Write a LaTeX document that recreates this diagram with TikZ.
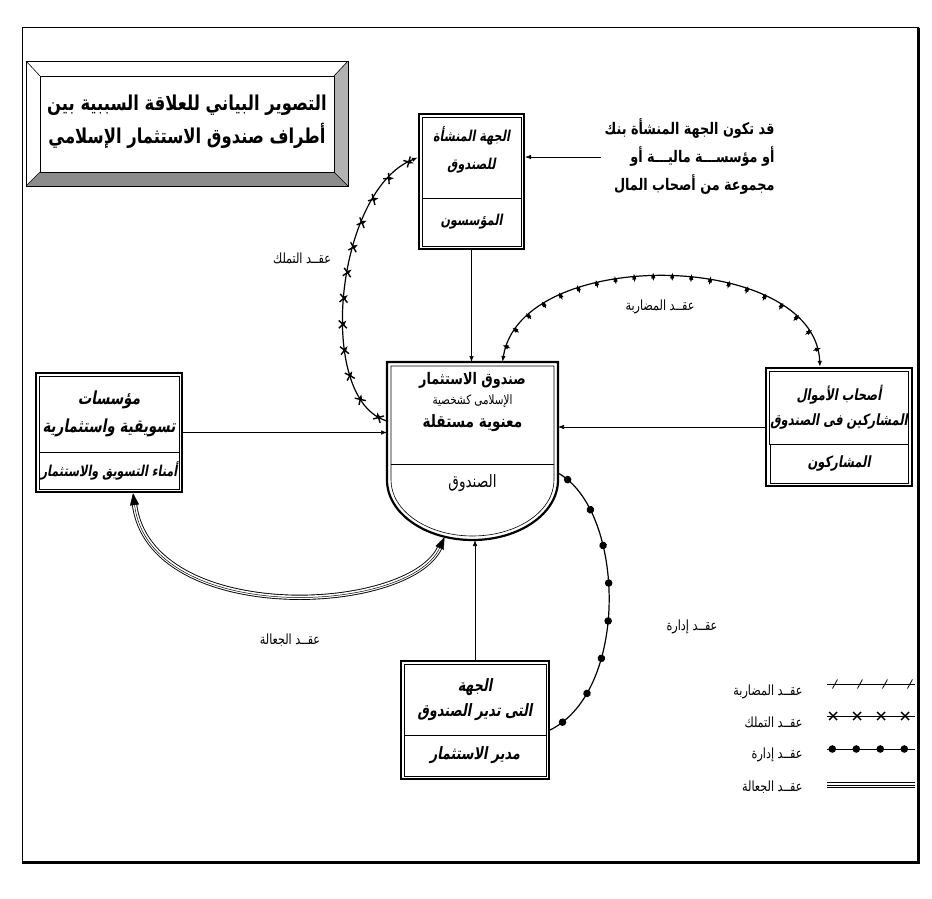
\documentclass[tikz,border=0pt]{standalone}
\usepackage{fontspec}
\usepackage{tikz}
\usetikzlibrary{positioning,fit,arrows.meta,decorations.markings}
\TeXXeTstate=1
\newfontfamily\arabicfont[Script=Arabic,FakeStretch=0.8]{DejaVu Sans}
\newfontfamily\arabicbold[Script=Arabic,FakeStretch=0.8]{DejaVu Sans Bold}
\newfontfamily\arabicslant[Script=Arabic,FakeSlant=0.18,FakeStretch=0.75]{DejaVu Sans Bold}
\newcommand{\arl}[1]{\beginR #1\endR}
\newcommand{\xmark}{\draw[line width=1.4pt] (-4pt,-4pt) -- (4pt,4pt) (-4pt,4pt) -- (4pt,-4pt);}

\tikzstyle{cell} = [rectangle, draw, line width=0.6pt, inner sep=1pt, outer sep=0pt, align=center]
\tikzstyle{boxframe} = [rectangle, draw, line width=2.2pt, inner sep=3pt]
\tikzstyle{conn} = [draw, line width=0.6pt, -{Latex[length=6pt,width=4.5pt]}]
\tikzstyle{lbl} = [font=\arabicfont\fontsize{14}{16}\selectfont]
\tikzstyle{jualah} = [draw, line width=0.9pt, double=white, double distance=3.4pt]
\tikzstyle{jcore} = [draw, line width=0.5pt, {Triangle[length=12pt,width=9pt]}-{Triangle[length=12pt,width=9pt]}]
\tikzset{
  tickline/.style={draw, line width=1.2pt, postaction=decorate,
    decoration={markings, mark=between positions #1 with {\draw[line width=0.9pt] (0,-4.5pt) -- (0,4.5pt);}}},
  slashline/.style={draw, line width=0.8pt, postaction=decorate,
    decoration={markings, mark=between positions #1 with {\draw[line width=0.8pt] (-2.5pt,-4.5pt) -- (2.5pt,4.5pt);}}},
  xline/.style={draw, line width=1.2pt, postaction=decorate,
    decoration={markings, mark=between positions #1 with {\xmark}}},
  dotline/.style={draw, line width=1.2pt, postaction=decorate,
    decoration={markings, mark=between positions #1 with {\fill (0,0) circle (3.8pt);}}}
}

\begin{document}
\begin{tikzpicture}[x=1pt, y=1pt]
  \useasboundingbox (0,0) rectangle (932,-899);
  % outer frame
  \draw[line width=1pt] (22,-28) rectangle (918,-862);
  \draw[line width=3pt] (918,-28) -- (918,-862) -- (22,-862);

  % title plate
  \fill[black!30] (348,-61) -- (348,-186) -- (334,-172) -- (334,-76) -- cycle;
  \fill[black!45] (26,-186) -- (348,-186) -- (334,-172) -- (40,-172) -- cycle;
  \draw[line width=0.8pt] (26,-61) rectangle (348,-186);
  \draw[line width=0.6pt] (40,-76) rectangle (334,-172);
  \draw[line width=0.6pt] (26,-61) -- (40,-76) (348,-61) -- (334,-76)
    (26,-186) -- (40,-172) (348,-186) -- (334,-172);
  \node[font=\arabicbold\fontsize{20.5}{33}\selectfont, align=center] (title) at (187,-122)
    {\arl{التصوير البياني للعلاقة السببية بين}\\\arl{أطراف صندوق الاستثمار الإسلامي}};

  % Place nodes
  % 1. founders
  \node[cell, minimum width=99, minimum height=81, text depth=18pt, font=\arabicslant\fontsize{15}{28}\selectfont] (foundT) at (471.5,-157.5)
    {\arl{الجهة المنشأة}\\\arl{للصندوق}};
  \node[cell, minimum width=99, minimum height=48, below=0pt of foundT, font=\arabicslant\fontsize{15}{18}\selectfont] (foundB)
    {\arl{المؤسسون}};
  \node[boxframe, fit=(foundT)(foundB)] (found) {};

  \node[font=\arabicbold\fontsize{16}{28}\selectfont, align=right, anchor=east] (note) at (778,-157)
    {\arl{قد تكون الجهة المنشأة بنك}\\\arl{أو مؤسســـة ماليـــة أو}\\\arl{مجموعة  من أصحاب المال}};

  % 2. marketing institutions
  \node[cell, minimum width=140, minimum height=76, font=\arabicslant\fontsize{18}{28}\selectfont] (instT) at (109,-414)
    {\arl{مؤسسات}\\\arl{تسويقية واستثمارية}};
  \node[cell, minimum width=140, minimum height=37, below=0pt of instT, font=\arabicslant\fontsize{15}{18}\selectfont] (instB)
    {\arl{أمناء التسويق والاستثمار}};
  \node[boxframe, fit=(instT)(instB)] (inst) {};

  % 3. the fund
  \node[minimum width=171, minimum height=178, inner sep=0pt, outer sep=0pt] (fund) at (472.5,-451) {};
  \draw[line width=2.2pt] (fund.north west) -- (fund.north east) -- ([yshift=60]fund.south east)
    arc[start angle=0, end angle=-180, x radius=85.5, y radius=60] -- cycle;
  \draw[line width=0.6pt] ([shift={(4,-4)}]fund.north west) -- ([shift={(-4,-4)}]fund.north east) -- ([shift={(-4,60)}]fund.south east)
    arc[start angle=0, end angle=-180, x radius=81.5, y radius=56] -- cycle;
  \draw[line width=0.6pt] (391,-464) -- (554,-464);
  \node[align=center, font=\arabicbold] (fundtxt) at (472.5,-402)
    {{\fontsize{16}{19}\selectfont\arl{صندوق الاستثمار}}\\[6pt]
     {\arabicfont\fontsize{13}{16}\selectfont\arl{الإسلامى كشخصية}}\\[6pt]
     {\fontsize{17}{20}\selectfont\arl{معنوية مستقلة}}};
  \node[font=\arabicfont\fontsize{17}{20}\selectfont] (fundlow) at (472.5,-483) {\arl{الصندوق}};

  % 4. participants
  \node[cell, minimum width=138, minimum height=73, font=\arabicslant\fontsize{15.5}{25}\selectfont] (partT) at (839,-407.5)
    {\arl{أصحاب الأموال}\\\arl{المشاركين فى الصندوق}};
  \node[cell, minimum width=138, minimum height=39, below=0pt of partT, font=\arabicslant\fontsize{15.5}{18}\selectfont] (partB)
    {\arl{المشاركون}};
  \node[boxframe, fit=(partT)(partB)] (part) {};

  % 5. fund manager
  \node[cell, minimum width=142, minimum height=71, font=\arabicslant\fontsize{17}{25}\selectfont] (mgrT) at (475,-699.5)
    {\arl{الجهة}\\\arl{التى تدير الصندوق}};
  \node[cell, minimum width=142, minimum height=41, below=0pt of mgrT, font=\arabicslant\fontsize{17}{20}\selectfont] (mgrB)
    {\arl{مدير الاستثمار}};
  \node[boxframe, fit=(mgrT)(mgrB)] (mgr) {};

  % Draw edges
  \path [conn] (note.west) -- (note.west -| found.east);
  \path [conn] (found.south) -- (found.south |- fund.north);
  \path [conn] (mgr.north) -- (mgr.north |- fund.south);
  \path [conn] (inst.east) -- (inst.east -| fund.west);
  \path [conn] (part.west) -- (part.west -| fund.east);

  % contracts
  \path [xline={0.03 and 0.97 step 26pt}, -{Latex[length=6pt,width=4.5pt]}]
    ([yshift=30]fund.west) .. controls +(-72,21) and +(-83,-33) .. ([yshift=24]found.west);
  \path [tickline={0.04 and 0.97 step 19pt}, {Latex[length=6pt,width=4.5pt]}-{Latex[length=6pt,width=4.5pt]}]
    ([xshift=30]fund.north) .. controls +(18,117) and +(-5,117) .. ([xshift=-19]part.north);
  \path [dotline={0.04 and 0.98 step 38pt}]
    ([yshift=-22]fund.east) .. controls +(67,-37) and +(80,40) .. ([yshift=-10]mgr.east);
  \path [jualah, shorten <=11pt, shorten >=11pt]
    ([xshift=24]inst.south) .. controls +(17,-133) and +(-35,-78) .. ([shift={(-28,3)}]fund.south);
  \path [jcore]
    ([xshift=24]inst.south) .. controls +(17,-133) and +(-35,-78) .. ([shift={(-28,3)}]fund.south);

  \node[lbl] (ltam) at (302,-258) {\arl{عقــد التملك}};
  \node[lbl] (lmud) at (660,-307) {\arl{عقــد المضاربة}};
  \node[lbl] (lidr) at (692,-627) {\arl{عقــد إدارة}};
  \node[lbl] (ljua) at (290,-640) {\arl{عقــد الجعالة}};

  % legend
  \node[lbl, anchor=east] (leg1) at (806,-692) {\arl{عقــد المضاربة}};
  \node[lbl, anchor=east] (leg2) at (806,-722) {\arl{عقــد التملك}};
  \node[lbl, anchor=east] (leg3) at (806,-755) {\arl{عقــد إدارة}};
  \node[lbl, anchor=east] (leg4) at (806,-787) {\arl{عقــد الجعالة}};
  \coordinate (g1a) at (827,-684); \coordinate (g1b) at (915,-684);
  \coordinate (g2a) at (827,-716); \coordinate (g2b) at (915,-716);
  \coordinate (g3a) at (827,-749); \coordinate (g3b) at (915,-749);
  \coordinate (g4a) at (827,-785); \coordinate (g4b) at (915,-785);
  \path [slashline={0.09 and 0.97 step 25pt}] (g1a) -- (g1b);
  \path [xline={0.07 and 0.95 step 24pt}, line width=0.8pt] (g2a) -- (g2b);
  \path [dotline={0.06 and 0.95 step 24pt}, line width=0.8pt] (g3a) -- (g3b);
  \path [jualah] (g4a) -- (g4b);
  \path [draw, line width=0.5pt] (g4a) -- (g4b);
\end{tikzpicture}
\end{document}
